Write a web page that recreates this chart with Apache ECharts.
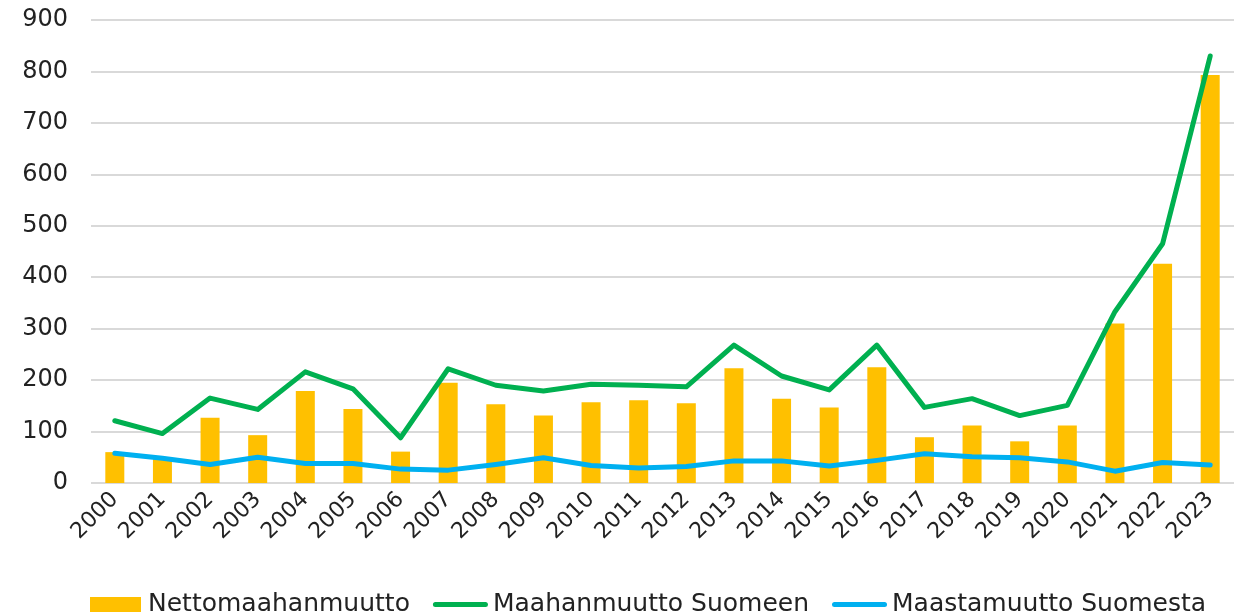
<!DOCTYPE html>
<html>
<head>
<meta charset="utf-8">
<script src="https://cdn.jsdelivr.net/npm/echarts@6/dist/echarts.min.js"></script>
<style>
  html, body { margin: 0; padding: 0; background: #ffffff; }
  #chart { width: 1234px; height: 615px; }
</style>
</head>
<body>
<div id="chart"></div>
<script>
  // vuodet
  const years = ['2000', '2001', '2002', '2003', '2004', '2005', '2006', '2007', '2008', '2009', '2010', '2011',
    '2012', '2013', '2014', '2015', '2016', '2017', '2018', '2019', '2020', '2021', '2022', '2023'];

  // Nettomaahanmuutto (pylväät)
  const netto = [60, 47, 127, 93, 179, 144, 61, 195, 153, 131, 157, 161,
    155, 223, 164, 147, 225, 89, 112, 81, 112, 310, 426, 793];

  // Maahanmuutto Suomeen
  const maahan = [121, 96, 165, 143, 216, 183, 88, 222, 190, 179, 192, 190,
    187, 268, 208, 181, 268, 147, 164, 131, 151, 333, 465, 830];

  // Maastamuutto Suomesta
  const maasta = [58, 48, 36, 50, 38, 38, 27, 25, 36, 49, 34, 29,
    32, 43, 43, 33, 44, 57, 51, 49, 41, 23, 40, 35];

  const font = 'DejaVu Sans';
  const textColor = '#222222';

  // legendan kuvakkeet
  const rectIcon = 'path://M0,0 H51 V15 H0 Z';
  const lineIcon = 'path://M2.5,0 H52.5 A2.5,2.5 0 0 1 52.5,5 H2.5 A2.5,2.5 0 0 1 2.5,0 Z';

  const chart = echarts.init(document.getElementById('chart'));

  chart.setOption({
    animation: false,
    grid: {
      left: 91,
      top: 20,
      width: 1147,
      height: 463
    },
    legend: {
      top: 592,
      left: 90,
      padding: 0,
      itemWidth: 55,
      itemHeight: 15,
      itemGap: 23,
      textStyle: { fontFamily: font, fontSize: 25, color: textColor },
      data: [
        { name: 'Nettomaahanmuutto', icon: rectIcon },
        { name: 'Maahanmuutto Suomeen', icon: lineIcon },
        { name: 'Maastamuutto Suomesta', icon: lineIcon }
      ]
    },
    xAxis: {
      type: 'category',
      data: years,
      axisLine: { show: false },
      axisTick: { show: false },
      axisLabel: {
        rotate: 45,
        interval: 0,
        margin: 13,
        fontFamily: font,
        fontSize: 22,
        color: textColor
      }
    },
    yAxis: {
      type: 'value',
      min: 0,
      max: 900,
      interval: 100,
      axisLine: { show: false },
      axisTick: { show: false },
      axisLabel: {
        margin: 23,
        fontFamily: font,
        fontSize: 24,
        color: textColor
      },
      splitLine: { lineStyle: { color: '#d9d9d9', width: 2 } }
    },
    series: [
      {
        name: 'Nettomaahanmuutto',
        type: 'bar',
        data: netto,
        barWidth: 19,
        itemStyle: { color: '#ffc000' }
      },
      {
        name: 'Maahanmuutto Suomeen',
        type: 'line',
        data: maahan,
        symbol: 'none',
        lineStyle: { color: '#00b050', width: 5, cap: 'round', join: 'round' },
        itemStyle: { color: '#00b050' }
      },
      {
        name: 'Maastamuutto Suomesta',
        type: 'line',
        data: maasta,
        symbol: 'none',
        lineStyle: { color: '#00b0f0', width: 5, cap: 'round', join: 'round' },
        itemStyle: { color: '#00b0f0' }
      }
    ]
  });
</script>
</body>
</html>
